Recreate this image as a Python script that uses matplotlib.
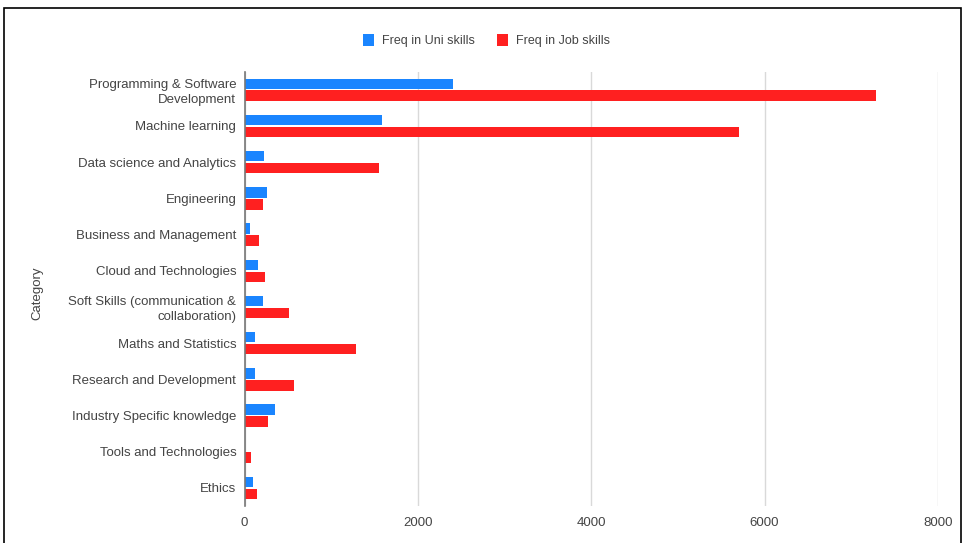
import numpy as np
import matplotlib.pyplot as plt
from matplotlib.patches import Rectangle

plt.rcParams["font.family"] = ["Liberation Sans", "DejaVu Sans"]

categories = [
    "Programming & Software\nDevelopment",
    "Machine learning",
    "Data science and Analytics",
    "Engineering",
    "Business and Management",
    "Cloud and Technologies",
    "Soft Skills (communication &\ncollaboration)",
    "Maths and Statistics",
    "Research and Development",
    "Industry Specific knowledge",
    "Tools and Technologies",
    "Ethics",
]
uni_freq = [2400, 1580, 220, 255, 60, 150, 210, 120, 120, 345, 8, 95]
job_freq = [7290, 5700, 1550, 210, 170, 240, 510, 1280, 565, 265, 70, 140]

blue = "#1a85ff"
red = "#ff2020"

fig = plt.figure(figsize=(9.63, 5.43), dpi=100)
ax = fig.add_axes([0.254, 0.068, 0.72, 0.80])

y = np.arange(len(categories))
h = 0.29
ax.barh(y - 0.165, uni_freq, height=h, color=blue, label="Freq in Uni skills", zorder=3)
ax.barh(y + 0.165, job_freq, height=h, color=red, label="Freq in Job skills", zorder=3)

ax.set_ylim(len(categories) - 0.5, -0.5)
ax.set_xlim(0, 8000)
ax.set_xticks([0, 2000, 4000, 6000, 8000])
ax.set_yticks(y)
ax.set_yticklabels(categories, fontsize=9.5, color="#444444", ha="right", linespacing=1.3)
ax.tick_params(axis="y", length=0, pad=6)
ax.tick_params(axis="x", length=0, pad=8, labelsize=9.5, labelcolor="#444444")

ax.grid(axis="x", color="#d9d9d9", lw=1, zorder=0)
for s in ["top", "right", "bottom"]:
    ax.spines[s].set_visible(False)
ax.spines["left"].set_color("#777777")
ax.spines["left"].set_linewidth(1.2)
ax.spines["left"].set_zorder(4)

ax.set_ylabel("Category", fontsize=9.5, color="#444444", labelpad=0)
ax.yaxis.set_label_coords(-0.29, 0.49)

fig.legend(loc="center", bbox_to_anchor=(0.505, 0.925), ncol=2, frameon=False,
           fontsize=9, handlelength=0.9, handleheight=1.1, handletextpad=0.6,
           columnspacing=1.8, labelcolor="#444444")

fig.patches.append(Rectangle((0.004, -0.01), 0.994, 0.995, transform=fig.transFigure,
                             fill=False, edgecolor="black", lw=1.2))

fig.savefig("out.png", dpi=100)
